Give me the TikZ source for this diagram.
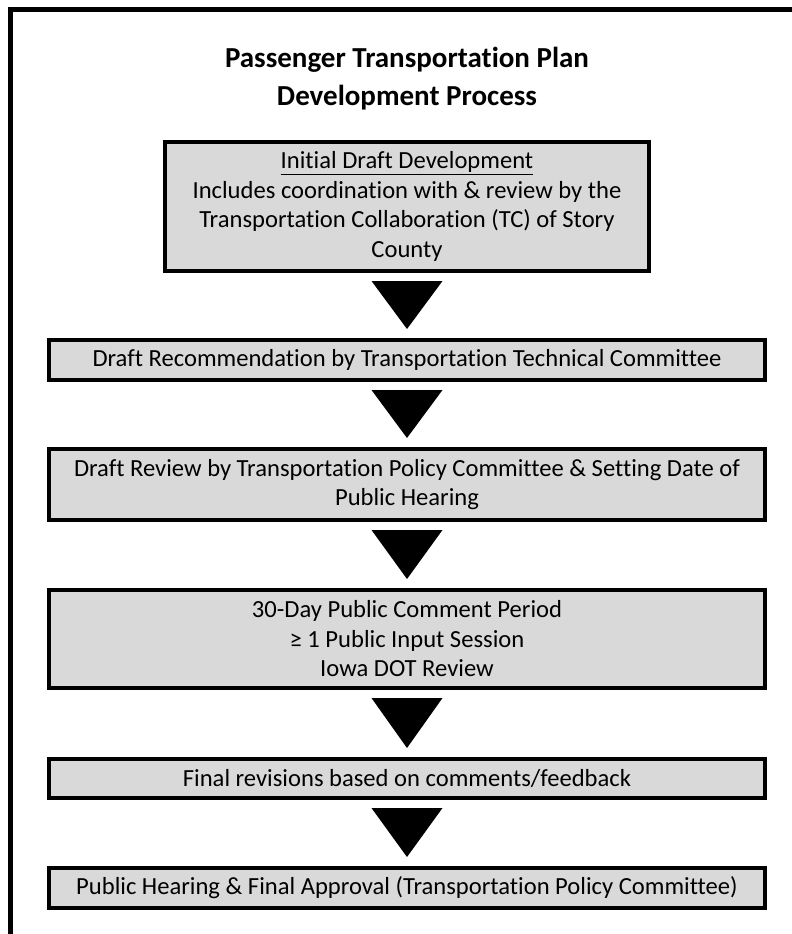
\documentclass[tikz,border=0pt]{standalone}
\usepackage{fontspec}
\setmainfont{Carlito}[Ligatures={NoCommon}]
\usepackage{xcolor}
\usepackage{tikz}
\usetikzlibrary{positioning,calc}

\definecolor{boxgray}{HTML}{D9D9D9}

\begin{document}
\begin{tikzpicture}[x=1pt, y=1pt,
    stepbox/.style={draw, rectangle, line width=4pt, fill=boxgray, align=center, inner sep=0pt,
        font=\fontsize{24.6}{29.5}\selectfont},
    arrowhead/.style={fill=black}]
    \clip (0,0) rectangle (792,-934);
    % outer frame, cut at right and bottom
    \draw[line width=5pt] (10,-9.5) rectangle (810,-950);

    \node (title) at (407,-79) [align=center, font=\bfseries\fontsize{29}{38}\selectfont] {Passenger Transportation Plan\\Development Process};

    \node (draft) at (407,-206.5) [stepbox, minimum width=484, minimum height=129] {\underline{Initial Draft Development}\\Includes coordination with \& review by the\\Transportation Collaboration (TC) of Story\\County};
    \node (recom) at (407,-360) [stepbox, minimum width=716, minimum height=40] {Draft Recommendation by Transportation Technical Committee};
    \node (review) at (407,-484.5) [stepbox, minimum width=716, minimum height=71] {Draft Review by Transportation Policy Committee \& Setting Date of\\Public Hearing};
    \node (comment) at (407,-639) [stepbox, minimum width=716, minimum height=98] {30-Day Public Comment Period\\≥ 1 Public Input Session\\Iowa DOT Review};
    \node (revise) at (407,-778.5) [stepbox, minimum width=716, minimum height=39] {Final revisions based on comments/feedback};
    \node (hearing) at (407,-888) [stepbox, minimum width=716, minimum height=40] {Public Hearing \& Final Approval (Transportation Policy Committee)};

    % block arrows between the steps
    \foreach \a/\b in {draft/recom, recom/review, review/comment, comment/revise, revise/hearing}
        \fill[arrowhead] ($(\a.south)+(-35.5,-8)$) -- ($(\a.south)+(35.5,-8)$) -- ($(\b.north)+(0,9)$) -- cycle;
\end{tikzpicture}
\end{document}
